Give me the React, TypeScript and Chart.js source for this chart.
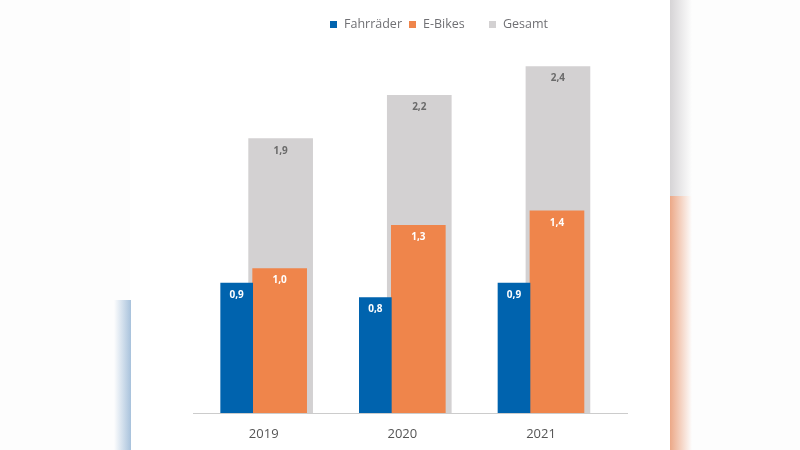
import React, { useEffect, useRef } from "react";
import { Chart, registerables } from "chart.js";

Chart.register(...registerables);

const years = ["2019", "2020", "2021"];
const fahrraeder = [0.9, 0.8, 0.9];
const eBikes = [1.0, 1.3, 1.4];
const gesamt = [1.9, 2.2, 2.4];

const seriesNames = ["Fahrräder", "E-Bikes", "Gesamt"];
const seriesColors = ["#0063ae", "#ef854b", "#d3d1d2"];

const fmt = (v: number) => v.toFixed(1).replace(".", ",");

const labelPlugin = {
  id: "valueLabels",
  afterDatasetsDraw(chart: any) {
    const ctx = chart.ctx;
    ctx.save();
    ctx.font = "bold 10px 'Open Sans', sans-serif";
    ctx.textAlign = "center";
    ctx.textBaseline = "middle";
    chart.data.datasets.forEach((ds: any, di: number) => {
      const meta = chart.getDatasetMeta(di);
      meta.data.forEach((el: any, i: number) => {
        const v = ds.data[i].y;
        ctx.fillStyle = di === 2 ? "#6a6a6a" : "#ffffff";
        ctx.fillText(fmt(v), el.x, el.y + 12);
      });
    });
    ctx.restore();
  },
};

export default function App() {
  const ref = useRef<HTMLCanvasElement | null>(null);
  useEffect(() => {
    if (!ref.current) return;
    const chart = new Chart(ref.current, {
      type: "bar",
      data: {
        datasets: [
          {
            label: seriesNames[0],
            data: fahrraeder.map((v, i) => ({ x: i - 0.195, y: v })),
            backgroundColor: seriesColors[0],
            barThickness: 32,
            grouped: false,
          },
          {
            label: seriesNames[1],
            data: eBikes.map((v, i) => ({ x: i + 0.115, y: v })),
            backgroundColor: seriesColors[1],
            barThickness: 54,
            grouped: false,
          },
          {
            label: seriesNames[2],
            data: gesamt.map((v, i) => ({ x: i + 0.122, y: v })),
            backgroundColor: seriesColors[2],
            barThickness: 64,
            grouped: false,
          },
        ],
      } as any,
      options: {
        animation: false,
        responsive: false,
        maintainAspectRatio: false,
        layout: { padding: { left: 193, right: 173, top: 37.6, bottom: 9.4 } },
        plugins: { legend: { display: false }, tooltip: { enabled: false } },
        scales: {
          x: {
            type: "linear",
            offset: false,
            min: -0.51,
            max: 2.62,
            grid: { display: false, drawTicks: false },
            border: { display: true, color: "#cccccc", width: 1 },
            afterBuildTicks: (scale: any) => {
              scale.ticks = years.map((_, i) => ({ value: i }));
            },
            ticks: {
              padding: 13,
              color: "#555555",
              font: { family: "'Open Sans', sans-serif", size: 13 },
              callback: (v: any) => years[Math.round(v)] ?? "",
              maxRotation: 0,
              autoSkip: false,
            },
          },
          y: { display: false, min: 0, max: 2.6 },
        },
      } as any,
      plugins: [labelPlugin],
    });
    return () => chart.destroy();
  }, []);

  const legendItems = [
    { x: 330, color: seriesColors[0], text: seriesNames[0] },
    { x: 409, color: seriesColors[1], text: seriesNames[1] },
    { x: 489, color: seriesColors[2], text: seriesNames[2] },
  ];

  return (
    <div style={{ position: "absolute", left: 0, top: 0, width: 800, height: 450, background: "#fdfdfd", overflow: "hidden" }}>
      <div style={{ position: "absolute", left: 130, top: 0, width: 540, height: 450, background: "#ffffff" }} />
      <div
        style={{
          position: "absolute",
          left: 114,
          top: 300,
          width: 17,
          height: 150,
          background: "linear-gradient(to right, rgba(181,203,224,0), rgba(168,194,220,1))",
        }}
      />
      <div
        style={{
          position: "absolute",
          left: 670,
          top: 0,
          width: 22,
          height: 196,
          background: "linear-gradient(to right, rgba(214,212,214,1), rgba(214,212,214,0))",
        }}
      />
      <div
        style={{
          position: "absolute",
          left: 670,
          top: 196,
          width: 22,
          height: 254,
          background: "linear-gradient(to right, rgba(236,168,135,1), rgba(236,168,135,0))",
        }}
      />
      <canvas ref={ref} width={800} height={464} style={{ position: "absolute", left: 0, top: 0 }} />
      {legendItems.map((it) => (
        <div key={it.text} style={{ position: "absolute", left: it.x, top: 16, height: 16, display: "flex", alignItems: "center" }}>
          <div style={{ width: 7, height: 7, background: it.color, marginRight: 7 }} />
          <span style={{ fontFamily: "'Open Sans', sans-serif", fontSize: 12.5, color: "#707074", lineHeight: "16px" }}>{it.text}</span>
        </div>
      ))}
    </div>
  );
}
